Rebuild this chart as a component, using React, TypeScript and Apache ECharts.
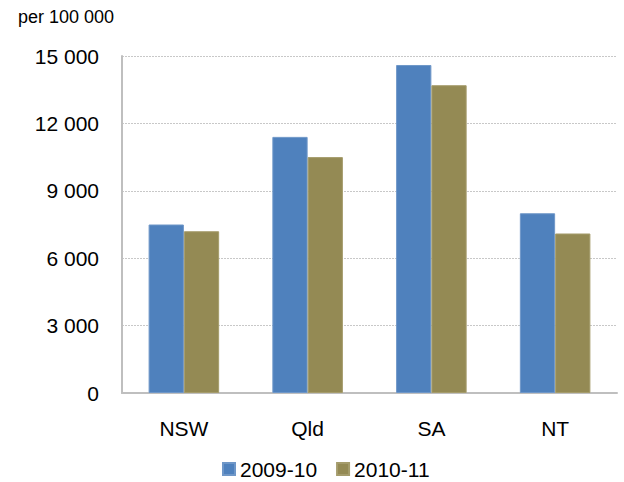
import React, { useEffect, useRef } from "react";
import * as echarts from "echarts";

const categories = ["NSW", "Qld", "SA", "NT"];
const series2009 = [7500, 11400, 14600, 8000];
const series2010 = [7200, 10500, 13700, 7100];
const seriesNames = ["2009-10", "2010-11"];
const yTicks = { min: 0, max: 15000, interval: 3000 };
const unitLabel = "per 100 000";

const fmt = (v: number) => {
  const s = String(Math.round(v));
  return s.replace(/\B(?=(\d{3})+(?!\d))/g, " ");
};

export default function App() {
  const ref = useRef<HTMLDivElement>(null);
  useEffect(() => {
    if (!ref.current) return;
    const chart = echarts.init(ref.current, null, { renderer: "svg" });
    const font = "Liberation Sans, Arial, sans-serif";
    chart.setOption({
      animation: false,
      backgroundColor: "#ffffff",
      textStyle: { fontFamily: font },
      grid: { left: 122, right: 7, top: 56, bottom: 89, containLabel: false },
      graphic: [
        {
          type: "text",
          left: 18,
          top: 8,
          style: { text: unitLabel, fontSize: 18, fontFamily: font, fill: "#000" },
        },
      ],
      legend: {
        left: 217,
        top: 453,
        padding: 5,
        itemWidth: 12,
        itemHeight: 12,
        itemGap: 19,
        icon: "rect",
        textStyle: { fontSize: 21, color: "#000", fontFamily: font, lineHeight: 22 },
        data: seriesNames,
      },
      xAxis: {
        type: "category",
        data: categories,
        axisLine: { show: true, lineStyle: { color: "#bfbfbf", width: 2 } },
        axisTick: { show: false },
        axisLabel: { fontSize: 21, color: "#000", margin: 25, fontFamily: font },
      },
      yAxis: {
        type: "value",
        min: yTicks.min,
        max: yTicks.max,
        interval: yTicks.interval,
        axisLine: { show: true, lineStyle: { color: "#bfbfbf", width: 2 } },
        axisTick: { show: false },
        splitLine: { show: true, lineStyle: { color: "#c8c8c8", type: [2, 1], width: 1 } },
        axisLabel: { fontSize: 21, color: "#000", margin: 23, fontFamily: font, formatter: fmt },
      },
      series: [
        {
          name: seriesNames[0],
          type: "bar",
          data: series2009,
          barGap: "0%",
          barCategoryGap: "43%",
          itemStyle: { color: "#4f81bd", borderColor: "#6f97c8", borderWidth: 1 },
        },
        {
          name: seriesNames[1],
          type: "bar",
          data: series2010,
          itemStyle: { color: "#948a54", borderColor: "#a59c6c", borderWidth: 1 },
        },
      ],
    });
    return () => chart.dispose();
  }, []);
  return (
    <div
      ref={ref}
      style={{ position: "fixed", left: 0, top: 0, width: 624, height: 482, background: "#fff" }}
    />
  );
}
